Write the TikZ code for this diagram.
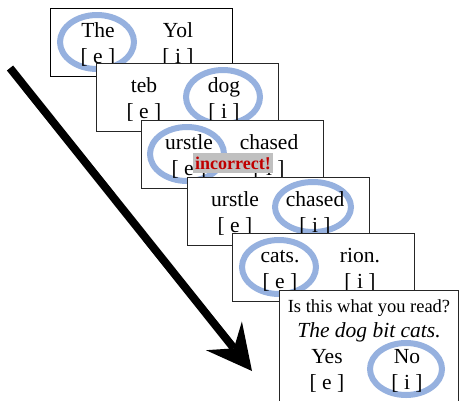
\documentclass[tikz,border=0pt]{standalone}
\usepackage{fontspec}
\setmainfont{Liberation Serif}
\usetikzlibrary{arrows.meta}
\definecolor{ringblue}{RGB}{150,177,223}
\definecolor{labgray}{RGB}{192,192,192}
\definecolor{labred}{RGB}{192,0,0}
\newcommand{\wordsize}{\fontsize{21.5}{24}\selectfont}
\begin{document}
\begin{tikzpicture}[x=1pt,y=-1pt,
  card/.style={draw=black!85, fill=white, line width=1pt, anchor=north west,
    minimum width=182pt, minimum height=68pt, inner sep=0pt, outer sep=0pt},
  word/.style={font=\wordsize, anchor=base, inner sep=0pt},
  ringst/.style={draw=ringblue, line width=6pt},
]
\useasboundingbox (0,0) rectangle (461,400);

% card 1
\node[card, draw=black] (c1) at (50,8) {};
\begin{scope}[shift={(50,8)}]
  \draw[ringst] (47,34) ellipse [x radius=37, y radius=27];
  \node[word] (w1a) at (48,29) {The};
  \node[word] (w1b) at (128,29) {Yol};
  \node[word] (k1a) at (48,55) {[ e ]};
  \node[word] (k1b) at (128,55) {[ i ]};
\end{scope}

% card 2
\node[card] (c2) at (96,63) {};
\begin{scope}[shift={(96,63)}]
  \draw[ringst] (127,34) ellipse [x radius=37, y radius=27];
  \node[word] (w2a) at (48,29) {teb};
  \node[word] (w2b) at (128,29) {dog};
  \node[word] (k2a) at (48,55) {[ e ]};
  \node[word] (k2b) at (128,55) {[ i ]};
\end{scope}

% card 3
\node[card] (c3) at (141,120) {};
\begin{scope}[shift={(141,120)}]
  \draw[ringst] (46,34) ellipse [x radius=37, y radius=27];
  \node[word] (w3a) at (48,29) {urstle};
  \node[word] (w3b) at (128,29) {chased};
  \node[word] (k3a) at (48,55) {[ e ]};
  \node[word] (k3b) at (128,55) {[ i ]};
\end{scope}
\node[fill=labgray, text=labred, font=\bfseries\fontsize{18}{20}\selectfont,
  inner xsep=2pt, inner ysep=3.9pt] (inc) at (233,163) {incorrect!};

% card 4
\node[card] (c4) at (187,177) {};
\begin{scope}[shift={(187,177)}]
  \draw[ringst] (126,30) ellipse [x radius=38, y radius=25];
  \node[word] (w4a) at (48,29) {urstle};
  \node[word] (w4b) at (128,29) {chased};
  \node[word] (k4a) at (48,55) {[ e ]};
  \node[word] (k4b) at (128,55) {[ i ]};
\end{scope}

% card 5
\node[card] (c5) at (232,233) {};
\begin{scope}[shift={(232,233)}]
  \draw[ringst] (47,34) ellipse [x radius=37, y radius=27];
  \node[word] (w5a) at (48,29) {cats.};
  \node[word] (w5b) at (128,29) {rion.};
  \node[word] (k5a) at (48,55) {[ e ]};
  \node[word] (k5b) at (128,55) {[ i ]};
\end{scope}

% card 6 (question)
\fill[white] (279,290) rectangle (458,410);
\draw[draw=black!85, line width=1pt] (279,405) -- (279,290) -- (458,290) -- (458,405);
\begin{scope}[shift={(279,290)}]
  \draw[ringst] (127,79) ellipse [x radius=36, y radius=26];
  \node[font=\fontsize{18.5}{21}\selectfont, anchor=base, inner sep=0pt] (q) at (90,22) {Is this what you read?};
  \node[font=\wordsize\itshape, anchor=base, inner sep=0pt] (s) at (90,47) {The dog bit cats.};
  \node[word] (yes) at (48,73) {Yes};
  \node[word] (no) at (128,73) {No};
  \node[word] (k6a) at (48,99) {[ e ]};
  \node[word] (k6b) at (128,99) {[ i ]};
\end{scope}

% time arrow
\coordinate (arrS) at (10,68);
\coordinate (arrE) at (252,371);
\draw[line width=8pt, -{Stealth[length=45pt, width=46pt, inset=16pt, line width=0pt]}] (arrS) -- (arrE);
\end{tikzpicture}
\end{document}
